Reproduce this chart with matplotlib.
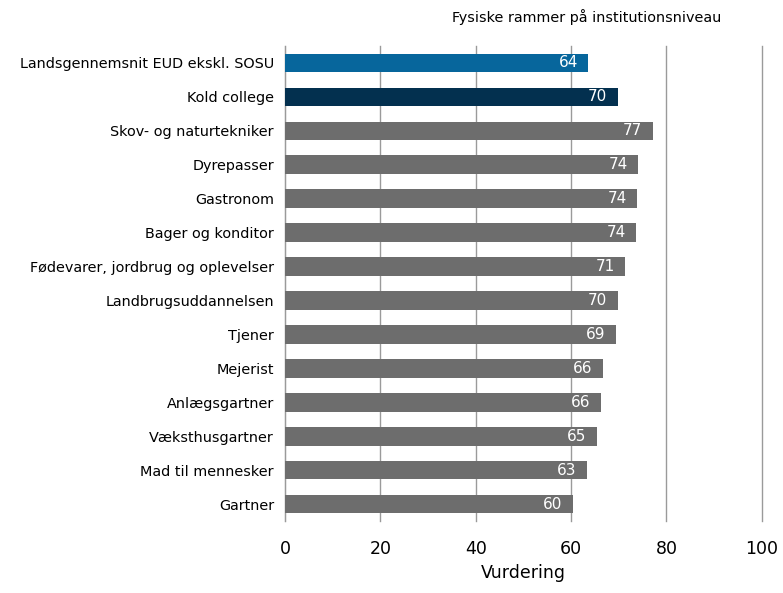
import matplotlib
matplotlib.use('Agg')
import matplotlib.pyplot as plt
import numpy as np

categories = ['Landsgennemsnit EUD ekskl. SOSU', 'Kold college', 'Skov- og naturtekniker',
              'Dyrepasser', 'Gastronom', 'Bager og konditor',
              'Fødevarer, jordbrug og oplevelser', 'Landbrugsuddannelsen', 'Tjener',
              'Mejerist', 'Anlægsgartner', 'Væksthusgartner', 'Mad til mennesker', 'Gartner']
values = [63.6, 69.8, 77.1, 74.1, 73.9, 73.7, 71.3, 69.8, 69.4, 66.6, 66.2, 65.4, 63.3, 60.4]
value_labels = ['64', '70', '77', '74', '74', '74', '71', '70', '69', '66', '66', '65', '63', '60']
colors = ['#07669c', '#03304f'] + ['#6d6d6d'] * 12

fig = plt.figure(figsize=(7.83, 5.93), dpi=100)
ax = fig.add_axes([0.364, 0.1214, 0.609, 0.801])

y = np.arange(len(categories))
ax.barh(y, values, height=0.55, color=colors, zorder=3)

for yi, v, lab in zip(y, values, value_labels):
    ax.annotate(lab, (v, yi), xytext=(-7.5, 0), textcoords='offset points',
                ha='right', va='center', color='white', fontsize=11, zorder=4)

ax.set_xlim(0, 100)
ax.set_ylim(len(categories) - 0.5, -0.5)
ax.set_yticks(y)
ax.set_yticklabels(categories, fontsize=10.4)
ax.set_xticks([0, 20, 40, 60, 80, 100])
ax.tick_params(axis='y', length=0, pad=8)
ax.tick_params(axis='x', length=0, pad=14, labelsize=12.5)
ax.xaxis.grid(True, color='#9a9a9a', linewidth=1, zorder=0)
for gl in ax.get_xgridlines():
    gl.set_clip_on(False)
for s in ['top', 'right', 'bottom']:
    ax.spines[s].set_visible(False)
ax.spines['left'].set_color('#9a9a9a')
ax.set_xlabel('Vurdering', fontsize=12.5, labelpad=4)

fig.text(0.921, 0.972, 'Fysiske rammer på institutionsniveau', ha='right', va='center', fontsize=10.4)

fig.savefig('out.png', dpi=100)
